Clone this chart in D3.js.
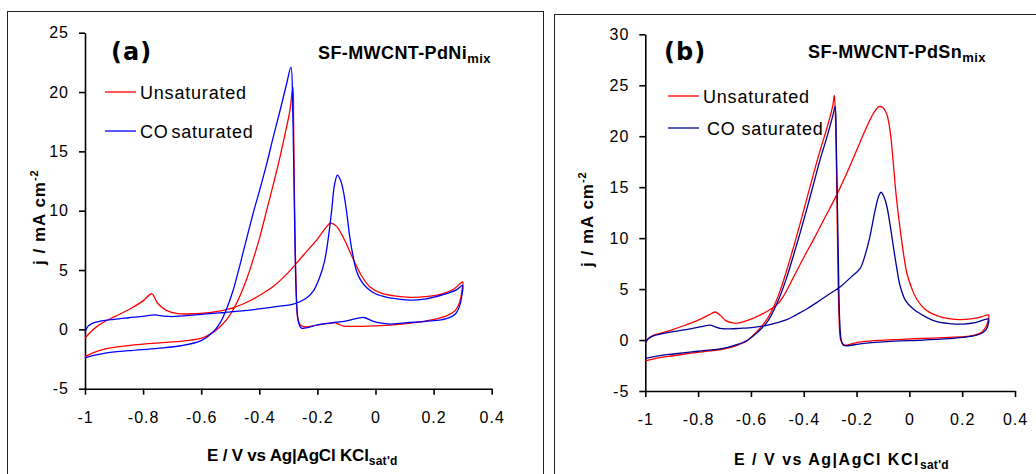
<!DOCTYPE html>
<html>
<head>
<meta charset="utf-8">
<title>CV - SF-MWCNT-PdNi / PdSn</title>
<style>
  body { margin: 0; background: #fff; }
  svg { display: block; font-family: Arial, "Liberation Sans", sans-serif; }
  .axis path, .axis line { stroke: #000; stroke-width: 1.6px; }
  .axis text { font-size: 16px; letter-spacing: 1px; fill: #000; font-family: Arial, "Liberation Sans", sans-serif; }
  .cv { fill: none; stroke-width: 1.3px; }
  .frame { fill: none; stroke: #222; stroke-width: 1px; }
</style>
</head>
<body>
<svg width="1036" height="474"></svg>
<script src="https://cdn.jsdelivr.net/npm/d3@7"></script>
<script>
// E (V vs Ag|AgCl) ticks and j (mA cm-2) ticks
var potentialTicks = [-1, -0.8, -0.6, -0.4, -0.2, 0, 0.2, 0.4];
var currentTicksA = [-5, 0, 5, 10, 15, 20, 25];
var currentTicksB = [-5, 0, 5, 10, 15, 20, 25, 30];
var seriesNames = ["Unsaturated", "CO saturated"];

// (a) SF-MWCNT-PdNi, full loops: anodic scan then cathodic scan, [E, j]
var pdNiUnsat = [
  [-1.00,-0.75],[-0.975,-0.1],[-0.95,0.4],[-0.90,1.05],[-0.85,1.65],[-0.80,2.4],[-0.77,3.0],[-0.75,2.2],
  [-0.72,1.6],[-0.68,1.32],[-0.62,1.33],[-0.56,1.45],[-0.50,1.75],[-0.45,2.2],[-0.40,2.85],[-0.35,3.65],
  [-0.30,4.8],[-0.25,6.2],[-0.20,7.6],[-0.17,8.6],[-0.155,8.95],[-0.135,8.7],[-0.11,7.7],[-0.08,6.1],
  [-0.05,4.6],[-0.02,3.6],[0.02,3.05],[0.07,2.8],[0.12,2.7],[0.18,2.78],[0.23,3.0],[0.27,3.4],[0.30,4.0],
  [0.297,3.2],[0.29,2.3],[0.275,1.6],[0.25,1.2],[0.21,0.88],[0.17,0.7],[0.12,0.52],[0.06,0.38],[0.0,0.3],
  [-0.06,0.25],[-0.11,0.28],[-0.125,0.42],[-0.14,0.55],[-0.17,0.48],[-0.21,0.32],[-0.24,0.2],[-0.258,0.35],
  [-0.268,1.0],[-0.273,3.5],[-0.277,8],[-0.28,13],[-0.282,17.5],[-0.284,20.4],[-0.295,18.4],[-0.312,16.4],
  [-0.329,14.5],[-0.352,12.2],[-0.375,10.0],[-0.398,7.8],[-0.421,5.9],[-0.444,4.2],[-0.467,2.8],[-0.49,1.65],
  [-0.513,0.8],[-0.536,0.2],[-0.559,-0.25],[-0.593,-0.69],[-0.65,-0.95],[-0.72,-1.1],[-0.80,-1.25],
  [-0.88,-1.45],[-0.94,-1.7],[-0.975,-2.0],[-1.0,-2.3]
];
var pdNiCO = [
  [-1.0,-0.25],[-0.99,0.25],[-0.975,0.5],[-0.95,0.68],[-0.90,0.85],[-0.85,0.98],[-0.80,1.1],[-0.76,1.22],
  [-0.73,1.12],[-0.70,1.08],[-0.62,1.22],[-0.56,1.35],[-0.48,1.52],[-0.40,1.72],[-0.33,1.95],[-0.28,2.15],
  [-0.24,2.6],[-0.215,3.2],[-0.192,4.4],[-0.175,5.8],[-0.163,7.6],[-0.151,10.0],[-0.141,12.2],[-0.131,13.0],
  [-0.121,12.6],[-0.111,11.7],[-0.10,10.0],[-0.088,7.7],[-0.075,5.9],[-0.065,4.9],[-0.05,4.1],[-0.03,3.5],
  [0.0,3.0],[0.04,2.7],[0.08,2.55],[0.12,2.46],[0.17,2.55],[0.21,2.77],[0.25,3.05],[0.28,3.35],[0.30,3.7],
  [0.297,2.8],[0.29,2.0],[0.275,1.3],[0.25,0.95],[0.21,0.75],[0.15,0.63],[0.10,0.55],[0.05,0.45],[0.02,0.52],
  [-0.01,0.7],[-0.04,1.0],[-0.06,0.95],[-0.10,0.72],[-0.15,0.55],[-0.20,0.38],[-0.24,0.12],[-0.255,0.1],
  [-0.265,0.6],[-0.272,2.5],[-0.277,7],[-0.281,13],[-0.285,18.5],[-0.291,22.1],[-0.306,20.7],[-0.329,18.4],
  [-0.352,16.2],[-0.375,13.9],[-0.398,11.8],[-0.421,9.8],[-0.444,7.6],[-0.467,5.4],[-0.49,3.3],[-0.513,1.7],
  [-0.536,0.5],[-0.56,-0.25],[-0.60,-0.95],[-0.67,-1.38],[-0.75,-1.6],[-0.85,-1.8],[-0.93,-2.0],[-0.97,-2.2],
  [-1.0,-2.4]
];

// (b) SF-MWCNT-PdSn
var pdSnUnsat = [
  [-1.0,-0.35],[-0.99,0.1],[-0.97,0.45],[-0.94,0.68],[-0.894,1.05],[-0.85,1.45],[-0.80,1.95],[-0.76,2.45],
  [-0.735,2.75],[-0.715,2.4],[-0.695,1.9],[-0.67,1.68],[-0.64,1.72],[-0.59,2.15],[-0.54,2.8],[-0.50,3.5],
  [-0.477,4.3],[-0.44,6.1],[-0.40,8.1],[-0.36,10.0],[-0.32,12.0],[-0.28,14.0],[-0.24,16.2],[-0.20,18.6],
  [-0.16,21.0],[-0.135,22.3],[-0.115,22.9],[-0.10,22.8],[-0.085,22.1],[-0.072,20.3],[-0.061,17.4],[-0.05,14.2],
  [-0.035,10.9],[-0.02,8.1],[-0.01,6.6],[0.01,5.0],[0.028,4.0],[0.06,3.0],[0.104,2.4],[0.15,2.1],[0.192,2.0],
  [0.24,2.1],[0.27,2.25],[0.30,2.45],
  [0.298,1.9],[0.29,1.3],[0.275,0.8],[0.25,0.5],[0.217,0.36],[0.15,0.26],[0.04,0.15],[-0.05,0.05],
  [-0.149,-0.1],[-0.20,-0.25],[-0.237,-0.5],[-0.25,-0.45],[-0.26,0.0],[-0.266,2],[-0.271,8],[-0.275,15],
  [-0.279,21],[-0.284,24.0],[-0.29,23.0],[-0.31,21.0],[-0.338,18.6],[-0.36,16.6],[-0.389,13.8],[-0.415,11.3],
  [-0.44,9.0],[-0.465,6.8],[-0.49,4.8],[-0.515,3.2],[-0.54,2.0],[-0.58,0.75],[-0.616,-0.1],[-0.66,-0.6],
  [-0.705,-0.88],[-0.80,-1.2],[-0.894,-1.54],[-0.95,-1.75],[-1.0,-2.05]
];
var pdSnCO = [
  [-1.0,-0.3],[-0.99,0.1],[-0.97,0.4],[-0.94,0.6],[-0.894,0.82],[-0.83,1.1],[-0.78,1.35],[-0.755,1.47],
  [-0.735,1.3],[-0.717,1.15],[-0.68,1.1],[-0.641,1.15],[-0.59,1.25],[-0.54,1.45],[-0.50,1.7],[-0.464,2.0],
  [-0.43,2.45],[-0.389,3.04],[-0.35,3.7],[-0.313,4.35],[-0.263,5.2],[-0.22,6.2],[-0.187,7.0],[-0.168,8.3],
  [-0.149,10.2],[-0.13,12.7],[-0.115,14.2],[-0.107,14.5],[-0.097,14.1],[-0.086,13.2],[-0.073,11.3],
  [-0.061,9.25],[-0.048,7.1],[-0.035,5.3],[-0.015,3.9],[0.015,3.04],[0.06,2.3],[0.104,1.8],[0.15,1.62],
  [0.205,1.57],[0.25,1.7],[0.30,2.06],
  [0.298,1.5],[0.29,1.0],[0.268,0.59],[0.23,0.35],[0.167,0.17],[0.05,0.0],[-0.086,-0.16],[-0.18,-0.35],
  [-0.237,-0.56],[-0.25,-0.5],[-0.258,0.0],[-0.264,2],[-0.269,8],[-0.273,14],[-0.277,19.5],[-0.281,22.9],
  [-0.29,22.0],[-0.31,20.1],[-0.338,17.7],[-0.36,15.6],[-0.389,12.8],[-0.415,10.4],[-0.44,8.2],[-0.465,6.1],
  [-0.49,4.3],[-0.515,2.85],[-0.54,1.7],[-0.58,0.65],[-0.616,-0.07],[-0.66,-0.5],[-0.705,-0.81],[-0.80,-1.1],
  [-0.894,-1.37],[-0.95,-1.55],[-1.0,-1.8]
];

var svg = d3.select("svg");

function drawPanel(p) {
    // outer frame of the panel (runs off the bottom of the picture)
    svg.append("rect").attr("class", "frame")
        .attr("x", p.frame[0]).attr("y", p.frame[1])
        .attr("width", p.frame[2]).attr("height", 600);

    var x = d3.scaleLinear().domain([-1, 0.4]).range([p.left, p.right]);
    var y = d3.scaleLinear().domain([-5, p.ymax]).range([p.bottom, p.top]);

    svg.append("g").attr("class", "axis")
        .attr("transform", "translate(0," + p.bottom + ")")
        .call(d3.axisBottom(x).tickValues(potentialTicks).tickSize(6).tickSizeOuter(0)
            .tickPadding(17).tickFormat(function (d) { return String(d); }));

    svg.append("g").attr("class", "axis")
        .attr("transform", "translate(" + p.left + ",0)")
        .call(d3.axisLeft(y).tickValues(p.yticks).tickSize(6).tickSizeOuter(0)
            .tickPadding(10).tickFormat(function (d) { return String(d); }));

    var line = d3.line()
        .x(function (d) { return x(d[0]); })
        .y(function (d) { return y(d[1]); })
        .curve(d3.curveCatmullRom.alpha(0.5));

    p.series.forEach(function (s) {
        svg.append("path").attr("class", "cv")
            .attr("stroke", s.color)
            .attr("d", line(s.data));
    });

    // panel letter
    svg.append("text").attr("x", p.letter[0]).attr("y", p.letter[1])
        .style("font-family", "'DejaVu Sans', Verdana, sans-serif")
        .style("font-weight", "bold").style("font-size", "24px")
        .style("letter-spacing", "1px")
        .text(p.letterText);

    // sample name with subscript
    var t = svg.append("text").attr("x", p.title[0]).attr("y", p.title[1])
        .style("font-weight", "bold").style("font-size", "18px").style("letter-spacing", "0.4px");
    t.append("tspan").text(p.titleText);
    t.append("tspan").attr("dy", 4).style("font-size", "13px").text("mix");

    // legend
    p.series.forEach(function (s, i) {
        var ly = p.legend[1] + i * p.legend[2];
        svg.append("line")
            .attr("x1", p.legend[0]).attr("x2", p.legend[0] + 31)
            .attr("y1", ly).attr("y2", ly)
            .attr("stroke", s.color).attr("stroke-width", 1.3);
        svg.append("text")
            .attr("x", p.legend[0] + 35 + (i === 1 ? p.coShift : 0)).attr("y", ly + 6.5)
            .style("font-size", "18px").style("letter-spacing", "0.8px")
            .style("word-spacing", p.wordSpacing)
            .text(seriesNames[i]);
    });

    // axis titles
    var xt = svg.append("text").attr("x", p.xtitle[0]).attr("y", p.xtitle[1])
        .style("font-weight", "bold").style("font-size", p.xtitle[2] + "px")
        .style("letter-spacing", p.xtitle[3] + "px");
    xt.append("tspan").text("E / V vs Ag|AgCl KCl");
    xt.append("tspan").attr("dy", 4).style("font-size", "12px").style("letter-spacing", "0.3px").text("sat'd");

    var yt = svg.append("text")
        .attr("transform", "translate(" + p.ytitle[0] + "," + p.ytitle[1] + ") rotate(-90)")
        .style("font-weight", "bold").style("font-size", "17px").style("letter-spacing", "1px");
    yt.append("tspan").text("j / mA cm");
    yt.append("tspan").attr("dy", -7).style("font-size", "11px").text("-2");
}

drawPanel({
    frame: [7.5, 11.5, 536],
    left: 85, right: 491.7, top: 32.7, bottom: 388.7, ymax: 25,
    yticks: currentTicksA,
    series: [{ data: pdNiUnsat, color: "#ff0000" }, { data: pdNiCO, color: "#0000ff" }],
    letter: [111, 60], letterText: "(a)",
    title: [318, 59], titleText: "SF-MWCNT-PdNi",
    legend: [105, 92, 39], coShift: 0, wordSpacing: "-3px",
    xtitle: [207, 461, 17, -0.2], ytitle: [45, 265]
});

drawPanel({
    frame: [554.5, 14.5, 600],
    left: 645.3, right: 1015, top: 34.3, bottom: 391, ymax: 30,
    yticks: currentTicksB,
    series: [{ data: pdSnUnsat, color: "#ff0000" }, { data: pdSnCO, color: "#000099" }],
    letter: [664, 60], letterText: "(b)",
    title: [808, 58], titleText: "SF-MWCNT-PdSn",
    legend: [668, 96, 32], coShift: 4, wordSpacing: "0px",
    xtitle: [734, 465, 16, 1.5], ytitle: [593, 267]
});
</script>
</body>
</html>
